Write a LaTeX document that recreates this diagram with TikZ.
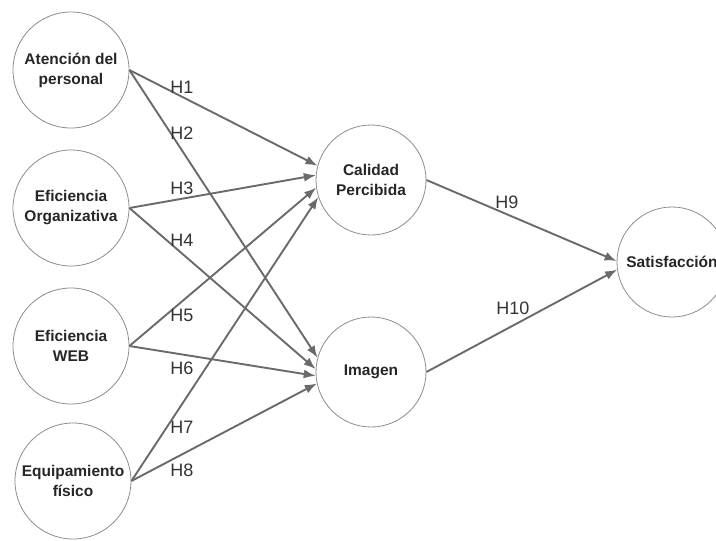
\documentclass[tikz,border=0pt]{standalone}
\usepackage{fontspec}
\setmainfont{Liberation Sans}
\usetikzlibrary{arrows.meta}
\definecolor{linegray}{HTML}{6A6A6A}
\definecolor{circgray}{HTML}{8C8C8C}
\begin{document}
\begin{tikzpicture}[x=1pt, y=-1pt,
    var/.style={circle, draw=circgray, line width=0.8pt, minimum size=116pt, inner sep=0pt,
        align=center, font=\fontsize{15.5}{20}\selectfont\bfseries, text=black!85},
    hyp/.style={-{Latex[length=12pt,width=9pt]}, draw=linegray, line width=1.9pt},
    lab/.style={font=\fontsize{18}{20}\selectfont, text=black!80}]
    \useasboundingbox (0,0) rectangle (716,541);
    \clip (0,0) rectangle (716,541);
    % variables
    \node[var] (aten) at (71,70) {Atención del\\personal};
    \node[var] (orga) at (71,208) {Eficiencia\\Organizativa};
    \node[var] (web) at (71,346) {Eficiencia\\WEB};
    \node[var] (equi) at (73,481) {Equipamiento\\físico};
    \node[var, minimum size=110pt] (cal) at (371,180) {Calidad\\Percibida};
    \node[var, minimum size=110pt] (img) at (371,372) {Imagen};
    \node[var, minimum size=110pt] (sat) at (672,262) {Satisfacción};
    % hipotesis
    \draw [hyp] (aten.east) -- (cal.165);
    \draw [hyp] (aten.east) -- (img.165);
    \draw [hyp] (orga.east) -- (cal.175);
    \draw [hyp] (orga.east) -- (img.177);
    \draw [hyp] (web.east) -- (cal.188);
    \draw [hyp] (web.east) -- (img.184);
    \draw [hyp] (equi.east) -- (cal.198);
    \draw [hyp] (equi.east) -- (img.192);
    \draw [hyp] (cal.east) -- (sat.179);
    \draw [hyp] (img.east) -- (sat.188);
    \node[lab] (h1) at (182,87) {H1};
    \node[lab] (h2) at (182,133) {H2};
    \node[lab] (h3) at (182,188) {H3};
    \node[lab] (h4) at (182,240) {H4};
    \node[lab] (h5) at (182,315) {H5};
    \node[lab] (h6) at (182,368) {H6};
    \node[lab] (h7) at (182,427) {H7};
    \node[lab] (h8) at (182,470) {H8};
    \node[lab] (h9) at (507,202) {H9};
    \node[lab] (h10) at (513,308) {H10};
\end{tikzpicture}
\end{document}
